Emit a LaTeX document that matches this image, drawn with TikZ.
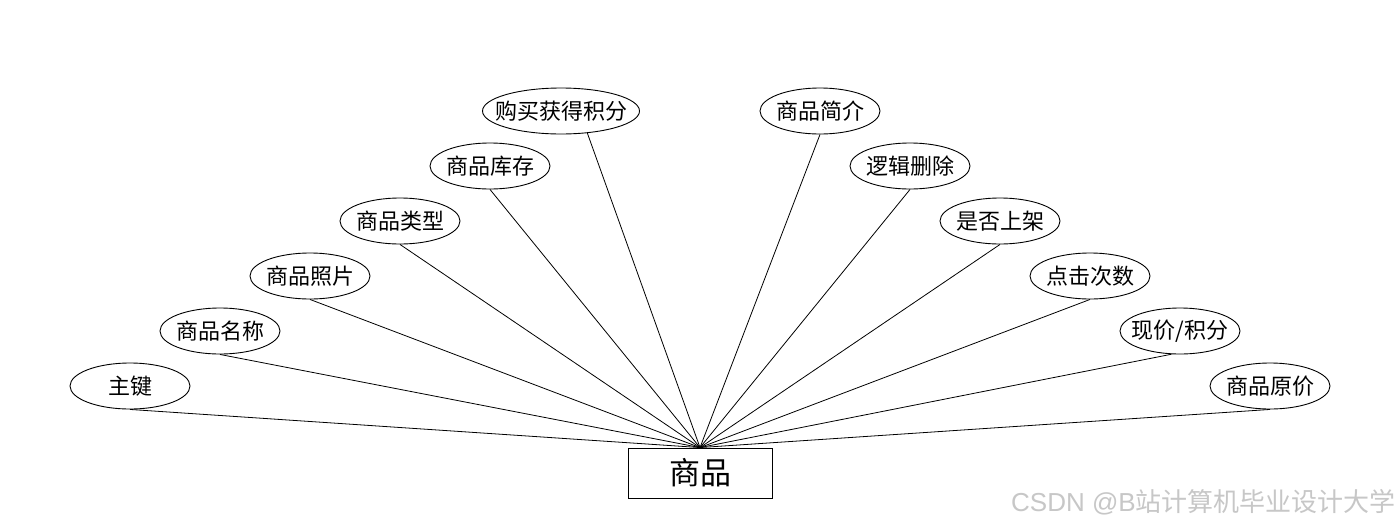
\documentclass[tikz,border=0pt]{standalone}
\usepackage{fontspec}
\setmainfont{Noto Sans CJK SC}
\newfontfamily\wmfont{Noto Sans CJK SC}
\newfontfamily\wmlatin{Liberation Sans}
\usetikzlibrary{shapes.geometric,calc}
\tikzset{
  attr/.style={draw, ellipse, line width=0.9pt, minimum width=120pt, minimum height=46pt, inner sep=0pt},
  lbl/.style={font=\fontsize{22pt}{22pt}\selectfont, inner sep=0pt},
  ent/.style={draw, rectangle, line width=0.9pt, minimum width=144pt, minimum height=50pt, inner sep=0pt},
  conn/.style={line width=0.8pt}
}
\begin{document}
\begin{tikzpicture}[x=1pt,y=-1pt]
\useasboundingbox[fill=white] (0,0) rectangle (1400,528);
\node[ent] (e) at (700,473) {};
\node[lbl, font=\fontsize{31pt}{31pt}\selectfont] (et) at (e) {商品};
\node[attr] (a1) at (130,386) {};
\node[attr] (a2) at (220,331) {};
\node[attr] (a3) at (310,276) {};
\node[attr] (a4) at (400,221) {};
\node[attr] (a5) at (490,166) {};
\node[attr, minimum width=157pt] (a6) at (561,111) {};
\node[attr] (b1) at (820,111) {};
\node[attr] (b2) at (910,166) {};
\node[attr] (b3) at (1000,221) {};
\node[attr] (b4) at (1090,276) {};
\node[attr] (b5) at (1180,331) {};
\node[attr] (b6) at (1270,386) {};
\node[lbl] (t1) at (a1) {主键};
\node[lbl] (t2) at (a2) {商品名称};
\node[lbl] (t3) at (a3) {商品照片};
\node[lbl] (t4) at (a4) {商品类型};
\node[lbl] (t5) at (a5) {商品库存};
\node[lbl] (t6) at (a6) {购买获得积分};
\node[lbl] (u1) at (b1) {商品简介};
\node[lbl] (u2) at (b2) {逻辑删除};
\node[lbl] (u3) at (b3) {是否上架};
\node[lbl] (u4) at (b4) {点击次数};
\node[lbl] (u5) at (b5) {现价/积分};
\node[lbl] (u6) at (b6) {商品原价};
\draw[conn] (a1.south) -- (e.north);
\draw[conn] (a2.south) -- (e.north);
\draw[conn] (a3.south) -- (e.north);
\draw[conn] (a4.south) -- (e.north);
\draw[conn] (a5.south) -- (e.north);
\draw[conn] (a6.-40) -- (e.north);
\draw[conn] (b1.south) -- (e.north);
\draw[conn] (b2.south) -- (e.north);
\draw[conn] (b3.south) -- (e.north);
\draw[conn] (b4.south) -- (e.north);
\draw[conn] (b5.-110) -- (e.north);
\draw[conn] (b6.south) -- (e.north);
\node[anchor=east, inner sep=0pt, text=black!22, font=\wmfont\fontsize{26pt}{26pt}\selectfont] (wm) at (1396,502) {{\wmlatin CSDN @B}站计算机毕业设计大学};
\end{tikzpicture}
\end{document}
